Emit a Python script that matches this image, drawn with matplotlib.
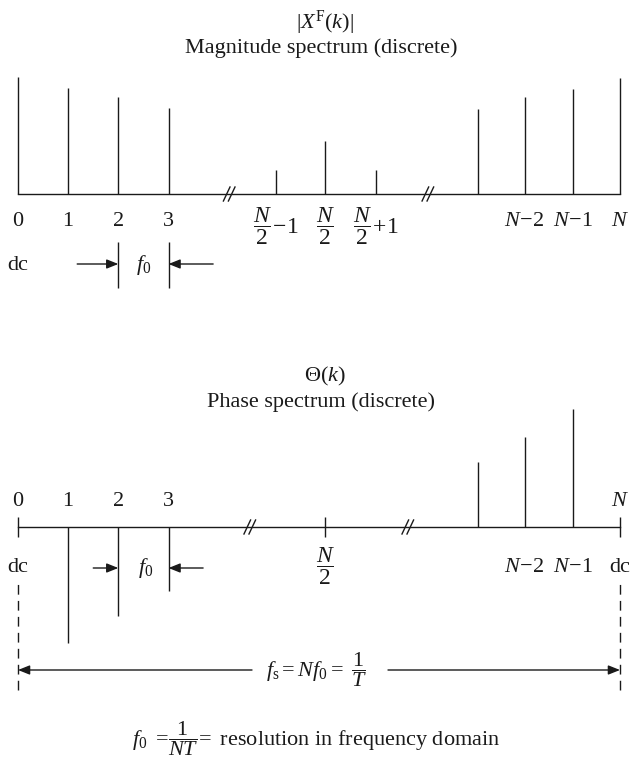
import matplotlib
matplotlib.use("Agg")
import matplotlib.pyplot as plt

plt.rcParams['font.family'] = ['Liberation Serif', 'DejaVu Serif']
plt.rcParams['mathtext.fontset'] = 'custom'
plt.rcParams['mathtext.rm'] = 'Liberation Serif'
plt.rcParams['mathtext.it'] = 'Liberation Serif:italic'
plt.rcParams['mathtext.bf'] = 'Liberation Serif:bold'

# ---------------- data ----------------
bins = ['0', '1', '2', '3', 'N/2-1', 'N/2', 'N/2+1', 'N-3', 'N-2', 'N-1', 'N']
# drawn position of each bin along the (broken) frequency axis
slot = [0, 1, 2, 3, 5.14, 6.12, 7.14, 9.17, 10.1, 11.06, 12]
magnitude = [117, 106, 97, 86, 24, 53, 24, 85, 97, 105, 116]
phase = [0, -116, -89, -64, 0, 0, 0, 65, 90, 118, 0]

top_labels = ['0', '1', '2', '3', r'$\dfrac{N}{2}\!-\!1$', r'$\dfrac{N}{2}$',
              r'$\dfrac{N}{2}\!+\!1$', '', r'$N\!-\!2$', r'$N\!-\!1$', r'$N$']
bot_labels_above = ['0', '1', '2', '3', '', '', '', '', '', '', r'$N$']
bot_labels_below = ['dc', '', '', '', '', r'$\dfrac{N}{2}$', '', '',
                    r'$N\!-\!2$', r'$N\!-\!1$', 'dc']
phase_ticks = ['0', 'N/2', 'N']

top_title = [r'$|X^{\mathrm{F}}(k)|$', 'Magnitude spectrum (discrete)']
bot_title = [r'$\Theta(k)$', 'Phase spectrum (discrete)']

# ---------------- layout ----------------
W, H = 631, 758
S = 602 / 12.0          # pixels per slot
FS = 16
FS_FRAC = 17
C = '#1a1a1a'
LW = 1.0

fig = plt.figure(figsize=(W / 100, H / 100), dpi=100)
ax1 = fig.add_axes([0, 1 - 340 / H, 1, 340 / H])
ax2 = fig.add_axes([0, 0, 1, 418 / H])
for ax in (ax1, ax2):
    ax.set_xlim(-18 / S, 12 + 11 / S)
    ax.axis('off')
ax1.set_ylim(-146, 194)
ax2.set_ylim(-231, 187)


def px(v):
    return v / S


def brk(ax, x):
    for off in (-2.5, 2.5):
        ax.plot([x + px(off - 3.3), x + px(off + 3.3)], [-7, 7], color=C, lw=LW)


def arrow(ax, x0, x1, y):
    ax.annotate('', xy=(x1, y), xytext=(x0, y),
                arrowprops=dict(arrowstyle='-|>,head_length=0.7,head_width=0.28',
                                mutation_scale=10, color=C, lw=LW,
                                shrinkA=0, shrinkB=0))


# ---------------- top: magnitude ----------------
ax1.plot([slot[0], slot[-1]], [0, 0], color=C, lw=LW)
ax1.vlines(slot, 0, magnitude, color=C, lw=LW)
brk(ax1, 4.21)
brk(ax1, 8.17)
for s, lab in zip(slot, top_labels):
    if lab:
        frac = 'frac' in lab
        ax1.text(s, -32 if frac else -28, lab, ha='center', va='center',
                 fontsize=FS_FRAC if frac else FS, color=C)
ax1.text(slot[0], -71, 'dc', ha='center', va='center', fontsize=FS, color=C)
ax1.vlines([slot[2], slot[3]], -94, -48, color=C, lw=LW)
arrow(ax1, 1.18, slot[2], -70)
arrow(ax1, 3.89, slot[3], -70)
ax1.text(2.5, -71, r'$f_0$', ha='center', va='center', fontsize=FS, color=C)
ax1.text(slot[5], 171, top_title[0], ha='center', va='center', fontsize=FS, color=C)
ax1.text(slot[5] - px(4), 146, top_title[1], ha='center', va='center', fontsize=FS, color=C)

# ---------------- bottom: phase ----------------
ax2.plot([slot[0], slot[-1]], [0, 0], color=C, lw=LW)
stem_idx = [i for i, p in enumerate(phase) if p != 0]
ax2.vlines([slot[i] for i in stem_idx], 0, [phase[i] for i in stem_idx], color=C, lw=LW)
tick_idx = [bins.index(t) for t in phase_ticks]
ax2.vlines([slot[i] for i in tick_idx], -10, 10, color=C, lw=LW)
brk(ax2, 4.62)
brk(ax2, 7.77)
for s, lab in zip(slot, bot_labels_above):
    if lab:
        ax2.text(s, 25, lab, ha='center', va='center', fontsize=FS, color=C)
for s, lab in zip(slot, bot_labels_below):
    if lab:
        frac = 'frac' in lab
        ax2.text(s, -39 if frac else -41, lab, ha='center', va='center',
                 fontsize=FS_FRAC if frac else FS, color=C)
arrow(ax2, 1.5, slot[2], -41)
arrow(ax2, 3.69, slot[3], -41)
ax2.text(2.55, -41, r'$f_0$', ha='center', va='center', fontsize=FS, color=C)
ax2.text(slot[5], 151, bot_title[0], ha='center', va='center', fontsize=FS, color=C)
ax2.text(slot[5] - px(4), 125, bot_title[1], ha='center', va='center', fontsize=FS, color=C)

# sampling-frequency span
ax2.vlines([slot[0], slot[-1]], -163, -56, color=C, lw=LW, linestyles=(0, (7, 4.5)))
arrow(ax2, px(252 - 18), slot[0], -143)
arrow(ax2, px(388 - 18), slot[-1], -143)
ax2.text(px(317 - 18), -143, r'$f_{\mathrm{s}} = Nf_0 =\ \dfrac{1}{T}$',
         ha='center', va='center', fontsize=FS, color=C)
ax2.text(px(316 - 18), -212,
         r'$f_0\ =\!\dfrac{1}{NT}\!=$ resolution in frequency domain',
         ha='center', va='center', fontsize=FS, color=C)

fig.savefig('out.png', dpi=100, facecolor='white')
